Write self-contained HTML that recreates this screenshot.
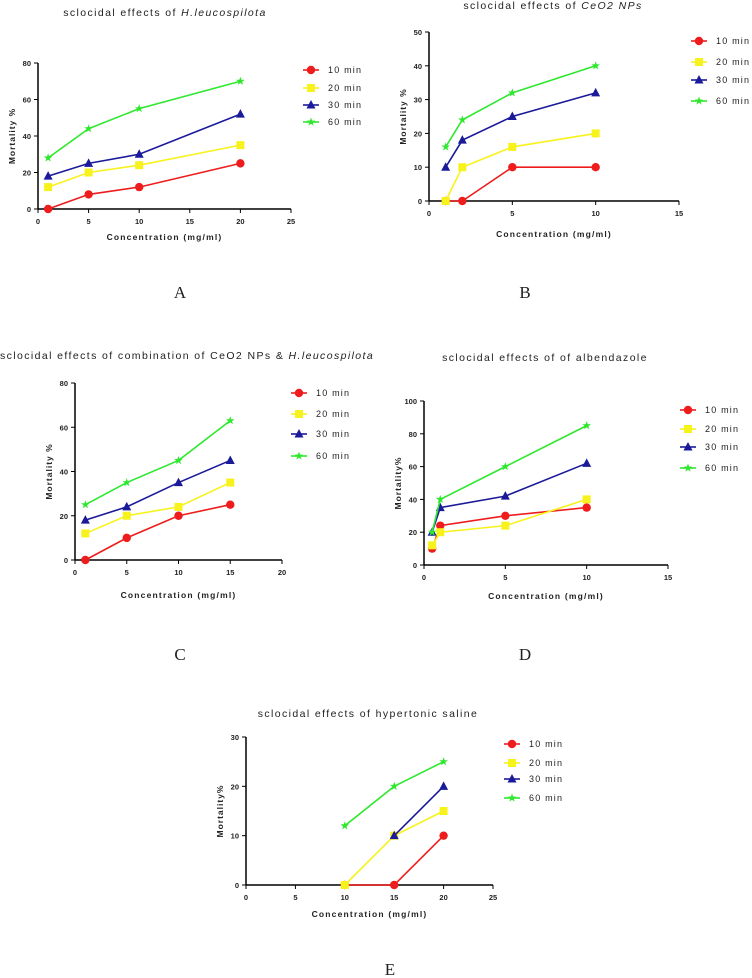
<!DOCTYPE html>
<html><head><meta charset="utf-8"><style>
body{margin:0;background:#fff;width:752px;height:978px;overflow:hidden;font-family:"Liberation Sans",sans-serif}
svg{position:absolute;left:0;top:0}
</style></head><body>
<svg id="s" width="752" height="978" xmlns="http://www.w3.org/2000/svg"></svg>
<script>
const NS="http://www.w3.org/2000/svg";
const svg=document.getElementById('s');
const seriesNames=["10 min","20 min","30 min","60 min"];
const colors=["#ee1c1c","#f8f21c","#1a1a9a","#2ee82e"];
const shapes=["circle","square","triangle","star"];

const xA=[1,5,10,20];
const a10=[0,8,12,25],a20=[12,20,24,35],a30=[18,25,30,52],a60=[28,44,55,70];
const xB=[1,2,5,10];
const b10=[0,0,10,10],b20=[0,10,16,20],b30=[10,18,25,32],b60=[16,24,32,40];
const xC=[1,5,10,15];
const c10=[0,10,20,25],c20=[12,20,24,35],c30=[18,24,35,45],c60=[25,35,45,63];
const xD=[0.5,1,5,10];
const d10=[10,24,30,35],d20=[12,20,24,40],d30=[20,35,42,62],d60=[20,40,60,85];
const xE=[10,15,20];
const e10=[0,0,10],e20=[0,10,15],e30=[null,10,20],e60=[12,20,25];
const ticksXA=[0,5,10,15,20,25],ticksYA=[0,20,40,60,80];
const ticksXB=[0,5,10,15],ticksYB=[0,10,20,30,40,50];
const ticksXC=[0,5,10,15,20],ticksYC=[0,20,40,60,80];
const ticksXD=[0,5,10,15],ticksYD=[0,20,40,60,80,100];
const ticksXE=[0,5,10,15,20,25],ticksYE=[0,10,20,30];

function el(t,a,p){const e=document.createElementNS(NS,t);for(const k in a)e.setAttribute(k,a[k]);(p||svg).appendChild(e);return e;}
function txt(s,x,y,o,p){const e=el('text',Object.assign({x:x,y:y,'font-size':8,'font-weight':'bold','fill':'#222'},o||{}),p);e.textContent=s;return e;}
function marker(g,shape,x,y,c){
  if(shape==='circle')return el('circle',{cx:x,cy:y,r:4.2,fill:c},g);
  if(shape==='square')return el('rect',{x:x-4,y:y-4,width:8,height:8,fill:c},g);
  if(shape==='triangle')return el('polygon',{points:`${x},${y-5} ${x-4.5},${y+3.5} ${x+4.5},${y+3.5}`,fill:c},g);
  let p=[];for(let i=0;i<10;i++){const r=i%2?1.8:4.5,a=-Math.PI/2+i*Math.PI/5;p.push((x+r*Math.cos(a)).toFixed(1)+','+(y+r*Math.sin(a)).toFixed(1));}
  return el('polygon',{points:p.join(' '),fill:c},g);
}
function panel(cfg){
  const g=el('g',{});
  
  
  const xs=v=>cfg.x0+(v-cfg.xt[0])/(cfg.xt[cfg.xt.length-1]-cfg.xt[0])*(cfg.x1-cfg.x0);
  const ys=v=>cfg.y0-(v-cfg.yt[0])/(cfg.yt[cfg.yt.length-1]-cfg.yt[0])*(cfg.y0-cfg.y1);
  const t=txt(cfg.title,cfg.tx,cfg.ty,{'font-size':10.5,'font-weight':'normal','letter-spacing':'1.4','text-anchor':cfg.tanchor||'middle'},g);
  
  if(cfg.italic){const ts=el('tspan',{'font-style':'italic'},t);ts.textContent=cfg.italic;}
  const ax=el('g',{},g);
  el('line',{x1:cfg.x0,y1:cfg.y0,x2:cfg.x1,y2:cfg.y0,stroke:'#000','stroke-width':1.5},ax);
  el('line',{x1:cfg.x0,y1:cfg.y0,x2:cfg.x0,y2:cfg.y1,stroke:'#000','stroke-width':1.5},ax);
  cfg.xt.forEach(v=>{const x=xs(v);el('line',{x1:x,y1:cfg.y0,x2:x,y2:cfg.y0+4,stroke:'#000'},ax);txt(v,x,cfg.y0+15,{'text-anchor':'middle','font-size':7.5},ax);});
  cfg.yt.forEach(v=>{const y=ys(v);el('line',{x1:cfg.x0-4,y1:y,x2:cfg.x0,y2:y,stroke:'#000'},ax);txt(v,cfg.x0-7,y+3,{'text-anchor':'end','font-size':7.5},ax);});
  const xl=txt('Concentration (mg/ml)',(cfg.x0+cfg.x1)/2,cfg.xly,{'text-anchor':'middle','letter-spacing':'1.2','font-size':8.5},g);
  
  const yl=txt(cfg.ylab,0,0,{'text-anchor':'middle','letter-spacing':'1','font-size':8.5,transform:`translate(${cfg.x0-23},${(cfg.y0+cfg.y1)/2}) rotate(-90)`},g);
  
  cfg.series.forEach((ser,si)=>{
    const sg=el('g',{},g);
    
    
    let pts=[];cfg.xv.forEach((xv,i)=>{if(ser[i]!==null)pts.push([xs(xv),ys(ser[i])]);});
    el('polyline',{points:pts.map(p=>p.join(',')).join(' '),fill:'none',stroke:colors[si],'stroke-width':1.6},sg);
    pts.forEach(p=>{const m=marker(sg,shapes[si],p[0],p[1],colors[si]);});
    const lg=el('g',{},g);
    
    
    const ly=cfg.ly[si];
    el('line',{x1:cfg.lx,y1:ly,x2:cfg.lx+16,y2:ly,stroke:colors[si],'stroke-width':1.6},lg);
    marker(lg,shapes[si],cfg.lx+8,ly,colors[si]);
    txt(seriesNames[si],cfg.lx+25,ly+3,{'font-weight':'normal','letter-spacing':'1.2','font-size':9},lg);
  });
  const L=el('text',{x:cfg.lab[0],y:cfg.lab[1],'font-family':'Liberation Serif,serif','font-size':17,'text-anchor':'middle',fill:'#222'},g);
  L.textContent=cfg.letter;
}
panel({name:'panel-a',title:'sclocidal effects of ',italic:'H.leucospilota',tx:165,ty:16,x0:38,x1:291,y0:209,y1:63,xt:ticksXA,yt:ticksYA,xv:xA,series:[a10,a20,a30,a60],xly:240,ylab:'Mortality %',lx:303,ly:[70,88,105,122],lab:[180,298],letter:'A'});
panel({name:'panel-b',title:'sclocidal effects of ',italic:'CeO2 NPs',tx:553,ty:9,x0:429,x1:679,y0:201,y1:32,xt:ticksXB,yt:ticksYB,xv:xB,series:[b10,b20,b30,b60],xly:237,ylab:'Mortality %',lx:691,ly:[41,62,80,101],lab:[525,298],letter:'B'});
panel({name:'panel-c',title:'sclocidal effects of combination of CeO2 NPs & ',italic:'H.leucospilota',tx:0,ty:359,tanchor:'start',x0:75,x1:282,y0:560,y1:383,xt:ticksXC,yt:ticksYC,xv:xC,series:[c10,c20,c30,c60],xly:598,ylab:'Mortality %',lx:291,ly:[393,414,434,456],lab:[180,660],letter:'C'});
panel({name:'panel-d',title:'sclocidal effects of  of albendazole',tx:545,ty:361,x0:424,x1:668,y0:565,y1:401,xt:ticksXD,yt:ticksYD,xv:xD,series:[d10,d20,d30,d60],xly:599,ylab:'Mortality%',lx:680,ly:[410,429,447,468],lab:[525,660],letter:'D'});
panel({name:'panel-e',title:'sclocidal effects of hypertonic saline',tx:368,ty:717,x0:246,x1:493,y0:885,y1:737,xt:ticksXE,yt:ticksYE,xv:xE,series:[e10,e20,e30,e60],xly:917,ylab:'Mortality%',lx:504,ly:[744,763,779,798],lab:[390,975],letter:'E'});
</script>
</body></html>
